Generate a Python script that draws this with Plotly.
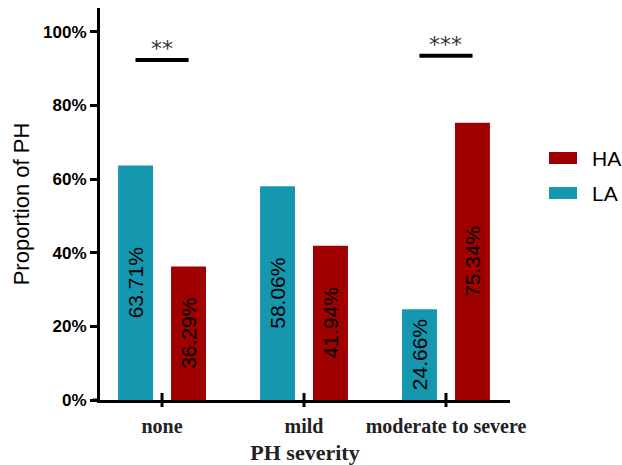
import plotly.graph_objects as go

categories = ["none", "mild", "moderate to severe"]
la_values = [63.71, 58.06, 24.66]
ha_values = [36.29, 41.94, 75.34]
sig_labels = ["**", "", "***"]
sig_heights = [92.4, None, 93.5]
y_ticks = [0, 20, 40, 60, 80, 100]
y_tick_text = ["0%", "20%", "40%", "60%", "80%", "100%"]
legend_names = ["HA", "LA"]

TEAL = "#1597B0"
RED = "#A00000"
SANS = "Liberation Sans, Arial, sans-serif"
SERIF = "Liberation Serif, Times New Roman, serif"

W, H = 622, 465
ML, MR, MT, MB = 100, 112, 8, 65
PW, PH = W - ML - MR, H - MT - MB

def px_x(p):
    return (p - ML) / PW

def px_y(p):
    return (H - MB - p) / PH

xpos = list(range(len(categories)))
XMIN, XMAX = -0.437, 2.451
BAR_OFF = 0.187

fig = go.Figure()
fig.add_trace(go.Bar(
    x=xpos, y=la_values, name="LA", marker=dict(color=TEAL, line=dict(width=0)),
    text=[f"{v:.2f}%" for v in la_values], textposition="inside",
    insidetextanchor="middle", textangle=-90,
    textfont=dict(family=SANS, size=21, color="black"), constraintext="none"))
fig.add_trace(go.Bar(
    x=xpos, y=ha_values, name="HA", marker=dict(color=RED, line=dict(width=0)),
    text=[f"{v:.2f}%" for v in ha_values], textposition="inside",
    insidetextanchor="middle", textangle=-90,
    textfont=dict(family=SANS, size=21, color="black"), constraintext="none"))

shapes = []
annotations = []
# significance bars
for i, (lab, h) in enumerate(zip(sig_labels, sig_heights)):
    if not lab:
        continue
    shapes.append(dict(type="line", xref="x", yref="y",
                       x0=i - BAR_OFF, x1=i + BAR_OFF, y0=h, y1=h,
                       line=dict(color="black", width=4)))
    annotations.append(dict(x=i, y=h, xref="x", yref="y", text=lab,
                            showarrow=False, yanchor="bottom", yshift=-3,
                            font=dict(family="DejaVu Sans", size=22, color="#333")))

# cross-style category ticks on x axis
for i in xpos:
    fx = (i - XMIN) / (XMAX - XMIN)
    shapes.append(dict(type="line", xref="x domain", yref="y domain",
                       x0=fx, x1=fx, y0=-0.018, y1=0.018,
                       line=dict(color="black", width=3)))
# small left extension of x axis line
shapes.append(dict(type="line", xref="x domain", yref="y domain",
                   x0=-0.018, x1=0, y0=0, y1=0,
                   line=dict(color="black", width=3)))

# custom legend
legend_colors = {"HA": RED, "LA": TEAL}
for k, name in enumerate(legend_names):
    cy = 158 + 35 * k
    shapes.append(dict(type="rect", xref="paper", yref="paper",
                       x0=px_x(549), x1=px_x(577), y0=px_y(cy + 6), y1=px_y(cy - 6),
                       fillcolor=legend_colors[name], line=dict(width=0)))
    annotations.append(dict(x=px_x(590), y=px_y(cy), xref="paper", yref="paper",
                            text=name, showarrow=False, xanchor="left", yanchor="middle",
                            font=dict(family=SANS, size=21, color="black")))

fig.update_layout(
    width=W, height=H,
    margin=dict(l=ML, r=MR, t=MT, b=MB, autoexpand=False),
    paper_bgcolor="white", plot_bgcolor="white",
    barmode="group", bargap=0.254, bargroupgap=0.34,
    showlegend=False,
    shapes=shapes, annotations=annotations,
    xaxis=dict(range=[XMIN, XMAX], tickmode="array", tickvals=xpos,
               ticktext=categories, showline=True, linecolor="black", linewidth=3,
               ticks="", showgrid=False, zeroline=False, ticklabelstandoff=6,
               automargin=False,
               tickfont=dict(family=SERIF, size=20, color="#222", weight="bold"),
               title=dict(text="<b>PH severity</b>", standoff=12,
                          font=dict(family=SERIF, size=22, color="#222"))),
    yaxis=dict(range=[0, 106.5], tickmode="array", tickvals=y_ticks,
               ticktext=[f"<b>{t}</b>" for t in y_tick_text],
               showline=True, linecolor="black", linewidth=3,
               ticks="outside", ticklen=7, tickwidth=3, tickcolor="black",
               showgrid=False, zeroline=False, automargin=False,
               tickfont=dict(family=SANS, size=17, color="black"),
               title=dict(text="Proportion of PH", standoff=8,
                          font=dict(family=SANS, size=22, color="black"))),
)

fig.write_html("out.html")
